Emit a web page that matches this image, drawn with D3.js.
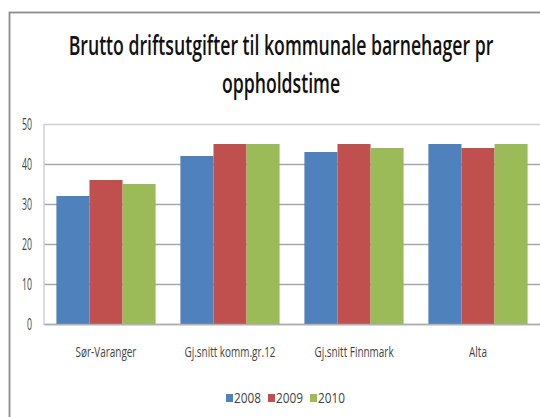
<!DOCTYPE html>
<html><head><meta charset="utf-8">
<script src="https://cdn.jsdelivr.net/npm/d3@7"></script>
<style>body{margin:0;background:#fff}svg{display:block}</style>
</head><body>
<script>
const categories = ["Sør-Varanger", "Gj.snitt komm.gr.12", "Gj.snitt Finnmark", "Alta"];
const seriesNames = ["2008", "2009", "2010"];
const values2008 = [32, 42, 43, 45];
const values2009 = [36, 45, 45, 44];
const values2010 = [35, 45, 44, 45];
const yTicks = [0, 10, 20, 30, 40, 50];
const titleLines = ["Brutto driftsutgifter til kommunale barnehager pr", "oppholdstime"];
const colors = ["#4F81BD", "#C0504D", "#9BBB59"];
const seriesValues = [values2008, values2009, values2010];

const W = 540, H = 417;
const font = "'Open Sans', sans-serif";
const svg = d3.select("body").append("svg").attr("width", W).attr("height", H);

// helper: measure text width
function measure(str, size, weight) {
  const t = svg.append("text").attr("font-family", font).attr("font-size", size)
    .attr("font-weight", weight || 400).text(str);
  const w = t.node().getComputedTextLength();
  t.remove();
  return w;
}

// frame
svg.append("rect").attr("x", 9.5).attr("y", 12.5).attr("width", 560).attr("height", 430)
  .attr("fill", "#fff").attr("stroke", "#8c8c8c").attr("stroke-width", 1.8);

const plot = {left: 44, right: 540, top: 124, bottom: 324};
const x0 = d3.scaleBand().domain(categories).range([plot.left, plot.right]).paddingInner(0.2).paddingOuter(0.1);
const x1 = d3.scaleBand().domain(seriesNames).range([0, x0.bandwidth()]);
const y = d3.scaleLinear().domain([0, 50]).range([plot.bottom, plot.top]);

// title (tall, condensed)
const titleSize = 27, titleWeight = 600;
const sTitle = 425 / measure(titleLines[0], titleSize, titleWeight);
const titleY = [55, 93];
titleLines.forEach((t, i) => {
  svg.append("text").attr("transform", `translate(281,${titleY[i]}) scale(${sTitle},1)`)
    .attr("text-anchor", "middle").attr("font-family", font).attr("font-size", titleSize)
    .attr("font-weight", titleWeight).attr("fill", "#111").text(t);
});

// gridlines + y axis
const tickSize = 16;
const sTick = 10 / measure("50", tickSize);
const yAxis = d3.axisLeft(y).tickValues(yTicks).tickSize(-(plot.right - plot.left)).tickPadding(12);
const ga = svg.append("g").attr("transform", `translate(${plot.left},0)`).call(yAxis);
ga.select(".domain").remove();
ga.selectAll(".tick line").attr("stroke", d => d === 50 ? "#cfcfcf" : "#a8a8a8").attr("stroke-width", 1.5);
ga.selectAll(".tick text").attr("font-family", font).attr("font-size", tickSize).attr("fill", "#444")
  .attr("x", -12 / sTick).attr("dy", "0.34em").attr("transform", `scale(${sTick},1)`);
svg.append("line").attr("x1", plot.left).attr("x2", plot.left).attr("y1", plot.top).attr("y2", plot.bottom + 1)
  .attr("stroke", "#d0d0d0").attr("stroke-width", 1.5);

// bars
const groups = svg.append("g").selectAll("g").data(categories).join("g")
  .attr("transform", d => `translate(${x0(d)},0)`);
groups.selectAll("rect").data((c, ci) => seriesNames.map((s, si) => ({s, si, v: seriesValues[si][ci]})))
  .join("rect")
  .attr("x", d => x1(d.s)).attr("width", x1.bandwidth())
  .attr("y", d => y(d.v)).attr("height", d => y(0) - y(d.v))
  .attr("fill", d => colors[d.si]);

// x axis
const catSize = 14;
const sCat = 61 / measure(categories[0], catSize);
const xAxis = d3.axisBottom(x0).tickSize(0).tickPadding(0);
const gx = svg.append("g").attr("transform", `translate(0,${plot.bottom})`).call(xAxis);
gx.select(".domain").attr("stroke", "#b0b0b0").attr("stroke-width", 1.5);
gx.selectAll(".tick text").attr("font-family", font).attr("font-size", catSize).attr("fill", "#444")
  .attr("y", 33).attr("dy", 0).attr("transform", `scale(${sCat},1)`);

// legend
const legSize = 14;
const sLeg = 27 / measure("2008", legSize);
const legX = [226, 268, 310];
const lg = svg.append("g");
seriesNames.forEach((s, i) => {
  lg.append("rect").attr("x", legX[i]).attr("y", 394).attr("width", 7).attr("height", 8).attr("fill", colors[i]);
  lg.append("text").attr("transform", `translate(${legX[i] + 8},403) scale(${sLeg},1)`)
    .attr("font-family", font).attr("font-size", legSize).attr("fill", "#444").text(s);
});
</script>
</body></html>
